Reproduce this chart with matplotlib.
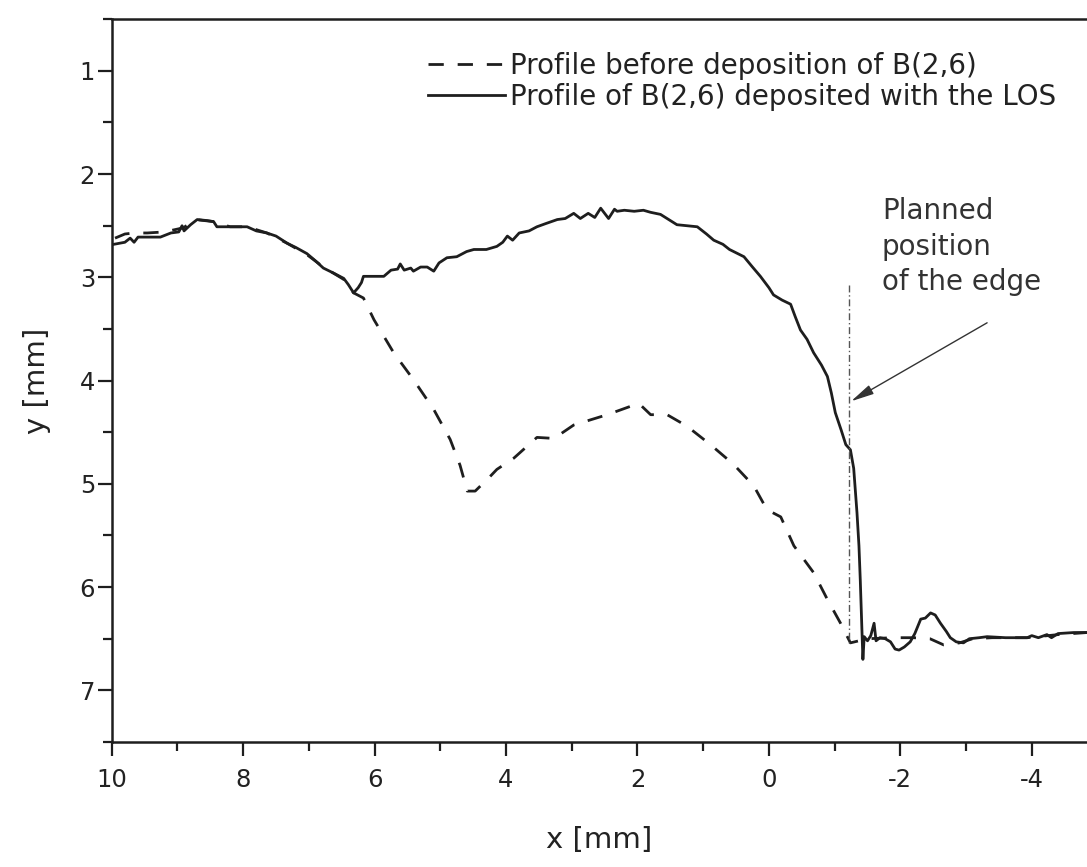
import matplotlib.pyplot as plt
from matplotlib.ticker import MultipleLocator

# profile of B(2,6) deposited with the LOS (solid)
x_after = [9.97, 9.80, 9.72, 9.66, 9.60, 9.40, 9.26, 9.10, 8.98, 8.93, 8.90, 8.80,
           8.70, 8.55, 8.45, 8.40, 8.20, 7.94, 7.80, 7.64, 7.50, 7.33, 7.20, 7.03,
           6.90, 6.78, 6.62, 6.47, 6.40, 6.32, 6.25, 6.20, 6.17, 5.98, 5.86, 5.75,
           5.65, 5.61, 5.55, 5.45, 5.41, 5.30, 5.20, 5.10, 5.02, 4.90, 4.75, 4.60,
           4.49, 4.30, 4.14, 4.05, 3.98, 3.90, 3.80, 3.65, 3.53, 3.40, 3.22, 3.10,
           2.97, 2.87, 2.75, 2.65, 2.56, 2.44, 2.35, 2.31, 2.20, 2.05, 1.91, 1.80,
           1.65, 1.50, 1.40, 1.25, 1.09, 0.95, 0.84, 0.70, 0.60, 0.38, 0.25, 0.13,
           0.00, -0.07, -0.20, -0.33, -0.40, -0.48, -0.58, -0.68, -0.80, -0.89, -0.95,
           -1.01, -1.10, -1.17, -1.24, -1.29, -1.34, -1.37, -1.39, -1.41, -1.42, -1.43,
           -1.45, -1.50, -1.55, -1.60, -1.63, -1.69, -1.77, -1.85, -1.92, -1.98, -2.06,
           -2.15, -2.22, -2.31, -2.38, -2.46, -2.53, -2.61, -2.70, -2.76, -2.85, -2.96,
           -3.05, -3.20, -3.32, -3.60, -3.93, -4.00, -4.10, -4.23, -4.30, -4.40, -4.64,
           -4.84]
y_after = [2.68, 2.66, 2.62, 2.66, 2.61, 2.61, 2.61, 2.57, 2.56, 2.50, 2.55, 2.49,
           2.44, 2.45, 2.46, 2.51, 2.51, 2.51, 2.55, 2.57, 2.60, 2.67, 2.71, 2.77,
           2.84, 2.91, 2.96, 3.01, 3.07, 3.15, 3.10, 3.05, 2.99, 2.99, 2.99, 2.93,
           2.92, 2.87, 2.93, 2.91, 2.94, 2.90, 2.90, 2.94, 2.86, 2.81, 2.80, 2.75,
           2.73, 2.73, 2.70, 2.66, 2.60, 2.64, 2.57, 2.55, 2.51, 2.48, 2.44, 2.43,
           2.38, 2.43, 2.38, 2.42, 2.33, 2.43, 2.34, 2.36, 2.35, 2.36, 2.35, 2.37,
           2.39, 2.45, 2.49, 2.50, 2.51, 2.58, 2.64, 2.68, 2.73, 2.80, 2.90, 2.99,
           3.10, 3.17, 3.22, 3.26, 3.38, 3.51, 3.60, 3.73, 3.85, 3.96, 4.12,
           4.31, 4.48, 4.62, 4.67, 4.85, 5.28, 5.60, 5.93, 6.30, 6.51, 6.70,
           6.48, 6.52, 6.47, 6.35, 6.52, 6.49, 6.50, 6.53, 6.60, 6.61, 6.58,
           6.53, 6.45, 6.31, 6.30, 6.25, 6.27, 6.35, 6.43, 6.49, 6.53, 6.54,
           6.50, 6.49, 6.48, 6.49, 6.49, 6.47, 6.49, 6.46, 6.49, 6.45, 6.44,
           6.44]

# profile before deposition (dashed)
x_before = [9.95, 9.80, 9.66, 9.46, 9.20, 8.91, 8.73, 8.45, 8.20, 7.94, 7.64, 7.33,
            7.03, 6.78, 6.47, 6.32, 6.17, 6.01, 5.71, 5.41, 5.10, 4.85, 4.70, 4.59,
            4.47, 4.26, 4.14, 3.88, 3.53, 3.27, 2.97, 2.46, 1.98, 1.80, 1.55, 1.25,
            0.89, 0.54, 0.23, 0.03, -0.18, -0.38, -0.68, -0.89, -1.09, -1.24, -1.50,
            -1.90, -2.20, -2.45, -2.66, -2.90, -3.10, -3.40, -3.93, -4.40, -4.84]
y_before = [2.62, 2.58, 2.57, 2.57, 2.56, 2.52, 2.44, 2.46, 2.51, 2.51, 2.57, 2.67,
            2.78, 2.90, 3.02, 3.15, 3.20, 3.41, 3.73, 3.99, 4.28, 4.57, 4.82, 5.07,
            5.07, 4.94, 4.86, 4.75, 4.55, 4.56, 4.43, 4.33, 4.22, 4.33, 4.33, 4.44,
            4.62, 4.81, 5.02, 5.25, 5.32, 5.60, 5.86, 6.12, 6.35, 6.54, 6.50,
            6.49, 6.49, 6.50, 6.56, 6.54, 6.50, 6.49, 6.49, 6.46, 6.44]

edge_x = -1.22
edge_y = (3.07, 6.55)

ink = '#1e1e1e'
plt.rcParams['font.family'] = ['DejaVu Sans']
plt.rcParams['axes.unicode_minus'] = False

fig = plt.figure(figsize=(10.87, 8.67), dpi=100)
ax = fig.add_axes([0.1028, 0.1442, 0.8972, 0.8336])

ax.plot(x_before, y_before, color=ink, lw=2.0, dashes=(5.5, 5),
        label='Profile before deposition of B(2,6)')
ax.plot(x_after, y_after, color=ink, lw=2.0,
        label='Profile of B(2,6) deposited with the LOS')
ax.vlines(edge_x, edge_y[0], edge_y[1], color='#555555', lw=1.0,
          linestyles=(0, (5, 2, 1, 2)))

ax.annotate('', xy=(-1.25, 4.20), xytext=(-3.32, 3.44),
            arrowprops=dict(arrowstyle='-|>,head_length=1.4,head_width=0.3',
                            mutation_scale=10, lw=1.0, color='#333333',
                            shrinkA=0, shrinkB=0))
ax.text(-1.72, 2.22, 'Planned\nposition\nof the edge', fontsize=20,
        color='#333333', ha='left', va='top', linespacing=1.35)

ax.set_xlim(10, -4.84)
ax.set_ylim(7.5, 0.5)
ax.xaxis.set_major_locator(MultipleLocator(2))
ax.xaxis.set_minor_locator(MultipleLocator(1))
ax.yaxis.set_major_locator(MultipleLocator(1))
ax.yaxis.set_minor_locator(MultipleLocator(0.5))
ax.set_yticks([1, 2, 3, 4, 5, 6, 7])

for s in ['left', 'bottom', 'top']:
    ax.spines[s].set_linewidth(1.8)
    ax.spines[s].set_color(ink)
ax.spines['right'].set_visible(False)

ax.tick_params(which='both', direction='out', color=ink, width=1.6,
               top=False, right=False)
ax.tick_params(which='major', length=10)
ax.tick_params(which='minor', length=6.5)
ax.tick_params(axis='x', which='major', labelsize=17.5, pad=9, labelcolor='#222222')
ax.tick_params(axis='y', which='major', labelsize=17.5, pad=2, labelcolor='#222222')

ax.set_xlabel('x [mm]', fontsize=21, va='center', color='#222222')
ax.xaxis.set_label_coords(0.5, -0.136)
ax.set_ylabel('y [mm]', fontsize=21, va='center', color='#222222')
ax.yaxis.set_label_coords(-0.0766, 0.5)

ax.legend(loc='upper left', bbox_to_anchor=(0.3243, 0.955), frameon=False,
          fontsize=20, borderpad=0, borderaxespad=0, handlelength=2.77,
          handletextpad=0.18, labelspacing=0.1, labelcolor='#222222')

fig.savefig('out.png', dpi=100)
